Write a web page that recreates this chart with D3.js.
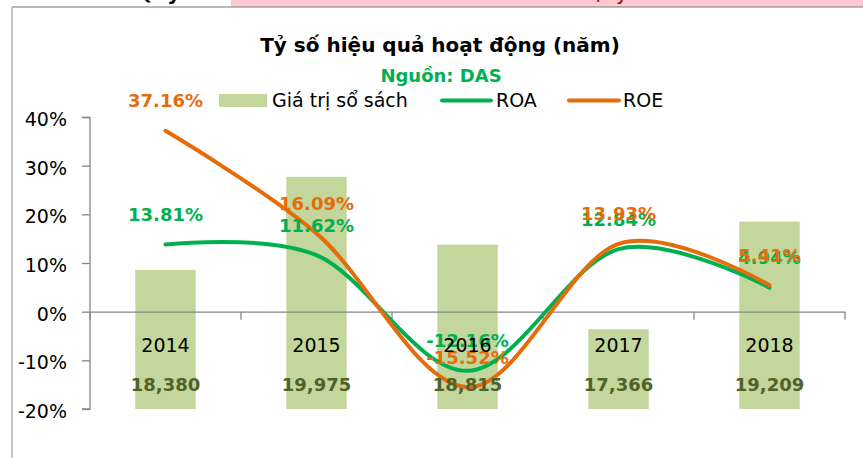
<!DOCTYPE html>
<html><head><meta charset="utf-8">
<script src="https://cdn.jsdelivr.net/npm/d3@7"></script>
<style>body{margin:0;background:#fff}svg{display:block}text{font-family:"DejaVu Sans",sans-serif}</style>
</head><body>
<svg id="c" width="863" height="458"></svg>
<script>
const years = ["2014","2015","2016","2017","2018"];
const bookValue = [18380, 19975, 18815, 17366, 19209];
const roa = [0.1381, 0.1162, -0.1216, 0.1284, 0.0494];
const roe = [0.3716, 0.1609, -0.1552, 0.1393, 0.0541];
const yTicks = [0.4, 0.3, 0.2, 0.1, 0, -0.1, -0.2];
const title = "Tỷ số hiệu quả hoạt động (năm)";
const subtitle = "Nguồn: DAS";
const legendNames = ["Giá trị sổ sách", "ROA", "ROE"];

const svg = d3.select("#c");
const C = {bar:"#c3d69b", roa:"#00b050", roe:"#e46c0a", val:"#4f6228", axis:"#868686"};
const loc = d3.formatLocale({decimal:".", thousands:",", grouping:[3], currency:["",""], minus:"-"});

// top strip fragments
svg.append("rect").attr("x",231).attr("y",0).attr("width",632).attr("height",7).attr("fill","#ffc7ce");
svg.append("text").attr("x",136).attr("y",0).attr("font-size",20).attr("font-weight","bold").attr("fill","#000").text("Quy");
svg.append("text").attr("x",597).attr("y",0).attr("font-size",20).attr("fill","#9c0006").text("/ày");
// frame
svg.append("line").attr("x1",12).attr("x2",863).attr("y1",7).attr("y2",7).attr("stroke","#a0a0a0").attr("stroke-width",1.5);
svg.append("line").attr("x1",12).attr("x2",12).attr("y1",7).attr("y2",458).attr("stroke","#c4c4c4").attr("stroke-width",2);

const x = d3.scaleBand().domain(years).range([90,845]).paddingInner(0.6).paddingOuter(0.3);
const xc = d => x(d) + x.bandwidth()/2;
const xb = d3.scaleBand().domain(years).range([90,845]);
const y = d3.scaleLinear().domain([-0.2,0.4]).range([409,117]);
const y2 = d3.scaleLinear().domain([16000,21000]).range([409,117]);

// title
svg.append("text").attr("x",440).attr("y",52).attr("text-anchor","middle").attr("font-size",20).attr("font-weight","bold").attr("fill","#000").text(title);
svg.append("text").attr("x",441).attr("y",82).attr("text-anchor","middle").attr("font-size",18).attr("font-weight","bold").attr("fill",C.roa).text(subtitle);

// legend
svg.append("rect").attr("x",219).attr("y",94).attr("width",48).attr("height",13).attr("fill",C.bar);
svg.append("text").attr("x",272).attr("y",107).attr("font-size",19).attr("fill","#000").text(legendNames[0]);
svg.append("line").attr("x1",442).attr("x2",491).attr("y1",100.5).attr("y2",100.5).attr("stroke",C.roa).attr("stroke-width",4).attr("stroke-linecap","round");
svg.append("text").attr("x",496).attr("y",107).attr("font-size",19).attr("fill","#000").text(legendNames[1]);
svg.append("line").attr("x1",569).attr("x2",619).attr("y1",100.5).attr("y2",100.5).attr("stroke",C.roe).attr("stroke-width",4).attr("stroke-linecap","round");
svg.append("text").attr("x",623).attr("y",107).attr("font-size",19).attr("fill","#000").text(legendNames[2]);

// y axis
const ya = svg.append("g").attr("transform","translate(90,0)")
  .call(d3.axisLeft(y).tickValues(yTicks).tickSize(8).tickPadding(15).tickFormat(loc.format(".0%")));
ya.select(".domain").attr("stroke",C.axis).attr("stroke-width",1.3).attr("d","M-8,117.5H0V409H-8");
ya.selectAll(".tick line").attr("stroke",C.axis).attr("stroke-width",1.3);
ya.selectAll(".tick text").attr("font-size",19).attr("fill","#000").attr("font-family","DejaVu Sans").attr("dy","0.45em");

// bars
svg.append("g").selectAll("rect").data(years).join("rect")
  .attr("x",d=>x(d)).attr("width",x.bandwidth())
  .attr("y",(d,i)=>y2(bookValue[i])).attr("height",(d,i)=>y2(16000)-y2(bookValue[i]))
  .attr("fill",C.bar);

// x axis at 0
const xa = svg.append("g").attr("transform",`translate(0,${y(0)})`)
  .call(d3.axisBottom(xb).tickValues([]).tickSize(0));
xa.select(".domain").attr("stroke",C.axis).attr("stroke-width",1.3);
svg.append("g").selectAll("line").data(years.concat(["end"])).join("line")
  .attr("x1",(d,i)=> i<years.length ? xb(d) : xb.range()[1])
  .attr("x2",(d,i)=> i<years.length ? xb(d) : xb.range()[1])
  .attr("y1",y(0)).attr("y2",y(0)+8).attr("stroke",C.axis).attr("stroke-width",1.3);

// lines
const line = d3.line().x((d,i)=>xc(years[i])).y(d=>y(d)).curve(d3.curveCardinal.tension(0));
svg.append("path").attr("d",line(roa)).attr("fill","none").attr("stroke",C.roa).attr("stroke-width",4).attr("stroke-linecap","round");
svg.append("path").attr("d",line(roe)).attr("fill","none").attr("stroke",C.roe).attr("stroke-width",4).attr("stroke-linecap","round");

// data labels
const pct = loc.format(".2%");
svg.append("g").selectAll("text").data(roa).join("text")
  .attr("x",(d,i)=>xc(years[i])).attr("y",d=>y(d)-23.5).attr("text-anchor","middle")
  .attr("font-size",18).attr("font-weight","bold").attr("fill",C.roa).text(d=>pct(d));
svg.append("g").selectAll("text").data(roe).join("text")
  .attr("x",(d,i)=>xc(years[i])).attr("y",d=>y(d)-23.5).attr("text-anchor","middle")
  .attr("font-size",18).attr("font-weight","bold").attr("fill",C.roe).text(d=>pct(d));

// category labels and book values
svg.append("g").selectAll("text").data(years).join("text")
  .attr("x",d=>xc(d)).attr("y",352).attr("text-anchor","middle").attr("font-size",19).attr("fill","#000").text(d=>d);
svg.append("g").selectAll("text").data(bookValue).join("text")
  .attr("x",(d,i)=>xc(years[i])).attr("y",391).attr("text-anchor","middle").attr("font-size",18).attr("font-weight","bold").attr("fill",C.val).text(d=>loc.format(",")(d));
</script>
</body></html>
